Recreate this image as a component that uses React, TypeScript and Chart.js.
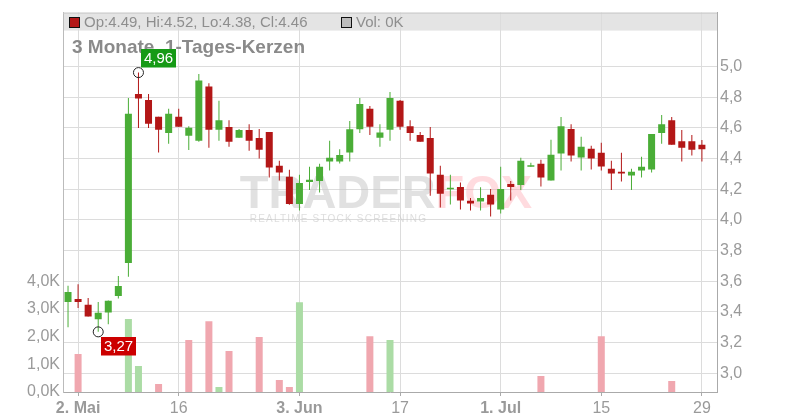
import React, { useEffect, useRef } from "react";
import { Chart, registerables } from "chart.js";

Chart.register(...registerables);

// ---- data (30.04. – 29.07., one candle per trading day) ----
const opens = [
  3.465, 3.485, 3.446, 3.352, 3.397, 3.504, 3.719, 4.821, 4.782, 4.672,
  4.567, 4.672, 4.548, 4.515, 4.87, 4.587, 4.605, 4.535, 4.585, 4.533,
  4.572, 4.353, 4.281, 4.104, 4.247, 4.254, 4.38, 4.38, 4.439, 4.59,
  4.724, 4.535, 4.587, 4.776, 4.611, 4.553, 4.533, 4.294, 4.2, 4.215,
  4.124, 4.119, 4.163, 4.067, 4.234, 4.228, 4.346, 4.366, 4.257, 4.433,
  4.592, 4.407, 4.463, 4.437, 4.333, 4.313, 4.289, 4.322, 4.328, 4.567,
  4.65, 4.513, 4.513, 4.49,
];
const highs = [
  3.57, 3.58, 3.49, 3.465, 3.475, 3.634, 4.795, 4.96, 4.821, 4.672,
  4.724, 4.724, 4.611, 4.95, 4.891, 4.776, 4.65, 4.592, 4.624, 4.592,
  4.572, 4.385, 4.326, 4.294, 4.346, 4.366, 4.515, 4.461, 4.644, 4.795,
  4.743, 4.624, 4.834, 4.782, 4.65, 4.572, 4.605, 4.353, 4.294, 4.243,
  4.143, 4.213, 4.202, 4.346, 4.254, 4.405, 4.372, 4.392, 4.522, 4.67,
  4.624, 4.541, 4.483, 4.502, 4.385, 4.437, 4.333, 4.411, 4.559, 4.683,
  4.67, 4.585, 4.553, 4.52,
];
const lows = [
  3.3, 3.426, 3.37, 3.27, 3.32, 3.487, 3.63, 4.598, 4.598, 4.439,
  4.496, 4.607, 4.455, 4.509, 4.47, 4.515, 4.476, 4.535, 4.45, 4.4,
  4.276, 4.257, 4.098, 4.061, 4.195, 4.178, 4.322, 4.367, 4.38, 4.567,
  4.553, 4.476, 4.515, 4.587, 4.515, 4.509, 4.158, 4.08, 4.1, 4.067,
  4.061, 4.061, 4.022, 4.041, 4.126, 4.195, 4.346, 4.217, 4.257, 4.322,
  4.38, 4.322, 4.328, 4.322, 4.195, 4.25, 4.195, 4.276, 4.309, 4.496,
  4.489, 4.38, 4.42, 4.38,
];
const closes = [
  3.53, 3.465, 3.37, 3.395, 3.472, 3.569, 4.691, 4.791, 4.626, 4.587,
  4.691, 4.607, 4.6, 4.909, 4.587, 4.65, 4.509, 4.585, 4.515, 4.457,
  4.341, 4.309, 4.104, 4.241, 4.261, 4.346, 4.405, 4.422, 4.59, 4.756,
  4.607, 4.57, 4.795, 4.607, 4.567, 4.509, 4.302, 4.171, 4.203, 4.126,
  4.106, 4.143, 4.1, 4.202, 4.215, 4.385, 4.353, 4.276, 4.424, 4.611,
  4.42, 4.476, 4.4, 4.348, 4.302, 4.302, 4.313, 4.346, 4.559, 4.624,
  4.489, 4.47, 4.457, 4.46,
];
// volume in thousands
const volumes = [
  0, 1.37, 0, 0, 0, 0, 2.64, 0.94, 0, 0.29,
  0, 0, 1.88, 0, 2.56, 0.18, 1.48, 0, 0, 1.99,
  0, 0.43, 0.18, 3.25, 0, 0, 0, 0, 0, 0,
  2.02, 0, 1.88, 0, 0, 0, 0, 0, 0, 0,
  0, 0, 0, 0, 0, 0, 0, 0.58, 0, 0,
  0, 0, 0, 2.02, 0, 0, 0, 0, 0, 0,
  0.4, 0, 0, 0,
];
const tickIndex = [1, 11, 23, 33, 43, 53, 63];
const tickLabels = ["2. Mai", "16", "3. Jun", "17", "1. Jul", "15", "29"];
const tickBold = [true, false, true, false, true, false, false];
const priceTicks = [3.0, 3.2, 3.4, 3.6, 3.8, 4.0, 4.2, 4.4, 4.6, 4.8, 5.0];
const volumeTicks = [0, 1, 2, 3, 4];
const titleText = "3 Monate, 1-Tages-Kerzen";

const FONT = "Arial, 'Liberation Sans', sans-serif";
const GREEN = "#4aad37";
const RED = "#b31717";
const VOL_GREEN = "#abdca5";
const VOL_RED = "#f0a7af";
const TEXT = "#9a9a9a";

const fmt = (v: number, d: number) => v.toFixed(d).replace(".", ",");

const decor = {
  id: "decor",
  beforeDraw(chart: any) {
    const { ctx, chartArea: a } = chart;
    ctx.save();
    ctx.fillStyle = "#e4e4e4";
    ctx.fillRect(a.left, a.top, a.right - a.left, 18);
    ctx.restore();
  },
  beforeDatasetsDraw(chart: any) {
    const { ctx, chartArea: a } = chart;
    const cx = (a.left + a.right) / 2;
    ctx.save();
    ctx.font = `bold 47px ${FONT}`;
    ctx.textBaseline = "alphabetic";
    const w1 = ctx.measureText("TRADER").width;
    const w2 = ctx.measureText("FOX").width;
    const x0 = cx - (w1 + w2) / 2 - 4;
    const base = 208;
    ctx.fillStyle = "rgba(200,200,200,0.55)";
    ctx.fillText("TRADER", x0, base);
    ctx.fillStyle = "rgba(255,160,172,0.38)";
    ctx.fillText("FOX", x0 + w1, base);
    ctx.font = `10px ${FONT}`;
    (ctx as any).letterSpacing = "1.2px";
    ctx.fillStyle = "rgba(200,200,200,0.6)";
    ctx.textBaseline = "middle";
    ctx.fillText("REALTIME STOCK SCREENING", x0 + 10, 219);
    ctx.restore();
  },
  afterDraw(chart: any) {
    const { ctx, chartArea: a, scales } = chart;
    const xs = scales.x;
    const ys = scales.y;
    ctx.save();
    // top border
    ctx.strokeStyle = "#c8c8c8";
    ctx.lineWidth = 1;
    ctx.beginPath();
    ctx.moveTo(a.left, a.top + 0.5);
    ctx.lineTo(a.right, a.top + 0.5);
    ctx.stroke();

    // header legend
    const n = closes.length - 1;
    ctx.fillStyle = RED;
    ctx.fillRect(69.5, 17.5, 10, 10);
    ctx.strokeStyle = "#111";
    ctx.strokeRect(69.5, 17.5, 10, 10);
    ctx.font = `15px ${FONT}`;
    ctx.textBaseline = "middle";
    ctx.textAlign = "left";
    ctx.fillStyle = "#8e8e8e";
    ctx.fillText(
      `Op:${opens[n].toFixed(2)}, Hi:${highs[n].toFixed(2)}, Lo:${lows[n].toFixed(2)}, Cl:${closes[n].toFixed(2)}`,
      84,
      23
    );
    ctx.fillStyle = "#bdbdbd";
    ctx.fillRect(341.5, 17.5, 10, 10);
    ctx.strokeRect(341.5, 17.5, 10, 10);
    ctx.fillStyle = "#8e8e8e";
    ctx.fillText(`Vol: ${Math.round(volumes[n])}K`, 356, 23);

    // title
    ctx.font = `bold 19px ${FONT}`;
    ctx.fillStyle = "#8a8a8a";
    ctx.fillText(titleText, 72, 48);

    // high / low markers
    let hi = 0;
    let lo = 0;
    highs.forEach((h, i) => { if (h > highs[hi]) hi = i; });
    lows.forEach((l, i) => { if (l < lows[lo]) lo = i; });

    const marker = (i: number, v: number, up: boolean, color: string) => {
      const px = xs.getPixelForValue(i);
      const py = ys.getPixelForValue(v);
      ctx.beginPath();
      ctx.arc(px, py, 5, 0, Math.PI * 2);
      ctx.strokeStyle = "#222";
      ctx.lineWidth = 1;
      ctx.stroke();
      const bw = 35;
      const bh = 18.5;
      const bx = Math.round(px + 3);
      const by = up ? Math.round(py - 5 - bh) : Math.round(py + 5);
      ctx.fillStyle = color;
      ctx.fillRect(bx, by, bw, bh);
      ctx.fillStyle = "#fff";
      ctx.font = `15px ${FONT}`;
      ctx.textAlign = "center";
      ctx.textBaseline = "middle";
      ctx.fillText(fmt(v, 2), bx + bw / 2, by + bh / 2 + 1);
    };
    marker(hi, highs[hi], true, "#169a16");
    marker(lo, lows[lo], false, "#cc0000");
    ctx.restore();
  },
};

export default function App() {
  const ref = useRef<HTMLCanvasElement>(null);

  useEffect(() => {
    const idx = opens.map((_, i) => i);
    const candleColors = idx.map((i) => (closes[i] >= opens[i] ? GREEN : RED));
    const volColors = idx.map((i) =>
      i === 0 || closes[i] >= closes[i - 1] ? VOL_GREEN : VOL_RED
    );

    const chart = new Chart(ref.current as HTMLCanvasElement, {
      type: "bar",
      data: {
        datasets: [
          {
            label: "body",
            data: idx.map((i) => ({
              x: i,
              y: [Math.min(opens[i], closes[i]), Math.max(opens[i], closes[i])],
            })) as any,
            backgroundColor: candleColors,
            barThickness: 7,
            minBarLength: 1.5,
            borderWidth: 0,
            inflateAmount: 0,
            grouped: false,
            yAxisID: "y",
            xAxisID: "x",
            order: 0,
          } as any,
          {
            label: "wick",
            data: idx.map((i) => ({ x: i, y: [lows[i], highs[i]] })) as any,
            backgroundColor: candleColors,
            barThickness: 1,
            borderWidth: 0,
            inflateAmount: 0,
            grouped: false,
            yAxisID: "y",
            xAxisID: "x",
            order: 1,
          } as any,
          {
            label: "volume",
            data: idx.map((i) => ({ x: i, y: volumes[i] })) as any,
            backgroundColor: volColors,
            barThickness: 7,
            borderWidth: 0,
            inflateAmount: 0,
            grouped: false,
            yAxisID: "yv",
            xAxisID: "x",
            order: 2,
          } as any,
        ],
      },
      options: {
        responsive: false,
        animation: false,
        devicePixelRatio: 1,
        layout: { padding: { top: 12, left: 0, right: 0, bottom: 0 } },
        plugins: { legend: { display: false }, tooltip: { enabled: false } },
        events: [],
        scales: {
          x: {
            type: "linear",
            min: -0.5,
            max: 64.5,
            offset: false,
            afterBuildTicks: (s: any) => {
              s.ticks = tickIndex.map((v) => ({ value: v }));
            },
            afterFit: (s: any) => {
              s.height = 28;
            },
            ticks: {
              autoSkip: false,
              maxRotation: 0,
              padding: 3,
              color: TEXT,
              callback: (v: any) => {
                const k = tickIndex.indexOf(Number(v));
                return k >= 0 ? tickLabels[k] : "";
              },
              font: (c: any) => ({
                family: FONT,
                size: 16,
                weight: tickBold[c.index] ? "bold" : "normal",
              }),
            },
            grid: {
              offset: false,
              color: "#dcdcdc",
              tickColor: "#aaaaaa",
              tickLength: 4,
            },
            border: { color: "#aaaaaa" },
          } as any,
          y: {
            type: "linear",
            position: "right",
            min: 2.878,
            max: 5.351,
            beginAtZero: false,
            afterBuildTicks: (s: any) => {
              s.ticks = priceTicks.map((v) => ({ value: v }));
            },
            afterFit: (s: any) => {
              s.width = 83;
            },
            ticks: {
              color: TEXT,
              padding: 3,
              font: { family: FONT, size: 16 },
              callback: (v: any) => fmt(Number(v), 1),
            },
            grid: { color: "#dcdcdc", drawTicks: false },
            border: { color: "#aaaaaa" },
          } as any,
          yv: {
            type: "linear",
            position: "left",
            min: 0,
            max: 13.72,
            beginAtZero: true,
            afterBuildTicks: (s: any) => {
              s.ticks = volumeTicks.map((v) => ({ value: v }));
            },
            afterFit: (s: any) => {
              s.width = 63;
            },
            ticks: {
              color: TEXT,
              padding: 3,
              font: { family: FONT, size: 16 },
              callback: (v: any) => fmt(Number(v), 1) + "K",
            },
            grid: { display: false, drawTicks: false },
            border: { display: true, color: "#bbbbbb" },
          } as any,
        },
      },
      plugins: [decor],
    });
    return () => chart.destroy();
  }, []);

  return (
    <div style={{ position: "absolute", left: 0, top: 0, width: 800, height: 420, background: "#fff" }}>
      <canvas ref={ref} width={800} height={420} style={{ display: "block" }} />
    </div>
  );
}
